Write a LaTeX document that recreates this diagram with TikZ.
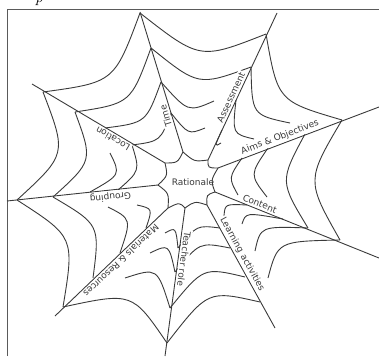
\documentclass[tikz,border=0pt]{standalone}
\usepackage{fontspec}
\newfontfamily\webfont{DejaVu Sans}
\usetikzlibrary{calc}
\definecolor{Ink}{HTML}{3A3A3A}
\definecolor{Frame}{HTML}{5A5A5A}
\tikzset{
    web/.style={Ink, line width=0.9pt},
    spoke/.style={Ink, line width=0.9pt},
    lab/.style={fill=white, text=Ink, inner sep=1.5pt, font=\webfont\fontsize{9}{9}\selectfont, sloped, allow upside down, above=0.5pt},
}
\begin{document}
\begin{tikzpicture}[x=1pt, y=-1pt]
    \useasboundingbox (0,0) rectangle (379,356);

    % Cornice
    \draw[Frame, line width=1pt] (7,356) -- (7,9) -- (379,9);
    \node[anchor=base, font=\fontsize{16}{16}\selectfont\itshape] (cap) at (39,2) {p};

    % Punti dei raggi: punta, anelli 1-4, estremo interno
    \coordinate (ctr) at (190,182);
    \coordinate (Lt) at (32,84);   \coordinate (L1) at (43,92);   \coordinate (L2) at (75,112);  \coordinate (L3) at (105,128); \coordinate (L4) at (132,145); \coordinate (Le) at (165,163);
    \coordinate (Tt) at (140,12);  \coordinate (T1) at (140,13);  \coordinate (T2) at (151,48);  \coordinate (T3) at (161,82);  \coordinate (T4) at (171,113); \coordinate (Te) at (183,152);
    \coordinate (At) at (277,13);  \coordinate (A1) at (266,34);  \coordinate (A2) at (251,67);  \coordinate (A3) at (236,100); \coordinate (A4) at (222,130); \coordinate (Ae) at (208,160);
    \coordinate (Ot) at (379,107); \coordinate (O1) at (342,120); \coordinate (O2) at (305,134); \coordinate (O3) at (268,148); \coordinate (O4) at (242,158); \coordinate (Oe) at (218,168);
    \coordinate (Ct) at (379,258); \coordinate (C1) at (340,240); \coordinate (C2) at (308,228); \coordinate (C3) at (283,219); \coordinate (C4) at (247,205); \coordinate (Ce) at (215,192);
    \coordinate (Et) at (275,328); \coordinate (E1) at (260,302); \coordinate (E2) at (245,277); \coordinate (E3) at (230,248); \coordinate (E4) at (220,228); \coordinate (Ee) at (207,205);
    \coordinate (Rt) at (165,356); \coordinate (R1) at (167,343); \coordinate (R2) at (170,308); \coordinate (R3) at (175,272); \coordinate (R4) at (178,248); \coordinate (Re) at (185,208);
    \coordinate (Mt) at (55,316);  \coordinate (M1) at (63,307);  \coordinate (M2) at (93,278);  \coordinate (M3) at (120,253); \coordinate (M4) at (146,228); \coordinate (Me) at (168,208);
    \coordinate (Gt) at (7,201);   \coordinate (G1) at (17,200);  \coordinate (G2) at (53,197);  \coordinate (G3) at (90,192);  \coordinate (G4) at (118,190); \coordinate (Ge) at (158,185);

    % Estremi liberi dei fili interni
    \coordinate (ta3) at (214,101); \coordinate (ta4) at (205,128);
    \coordinate (ao2) at (290,123); \coordinate (ao3) at (254,139); \coordinate (ao4) at (221,143);
    \coordinate (oc3) at (267,197); \coordinate (oc4) at (238,195);
    \coordinate (ce1) at (268,278); \coordinate (ce2) at (255,251); \coordinate (ce3) at (242,224); \coordinate (ce4) at (224,216);
    \coordinate (rm2) at (125,278); \coordinate (rm3) at (150,253); \coordinate (rm4) at (165,233);
    \coordinate (mg3) at (108,207); \coordinate (mg4) at (137,205);
    \coordinate (gl3) at (110,153);

    % Anello centrale
    \foreach \a/\b in {L/T,T/A,A/O,O/C,C/E,E/R,R/M,M/G,G/L}
        \draw[web] (\a e) .. controls ($($(\a e)!.5!(\b e)$)!.22!(ctr)$) .. (\b e);

    % Anelli esterni
    \foreach \p/\q in {L1/T1, T1/A1, A1/O1, O1/C1, C1/ce1, E1/R1, R1/M1, M1/G1, G1/L1,
                       L2/T2, T2/A2, A2/ao2, O2/C2, C2/ce2, E2/R2, R2/rm2, M2/G2, G2/L2,
                       L3/T3, T3/ta3, A3/ao3, O3/oc3, C3/ce3, E3/R3, R3/rm3, M3/mg3, G3/gl3,
                       L4/T4, T4/ta4, A4/ao4, O4/oc4, C4/ce4, E4/R4, R4/rm4, M4/mg4, G4/L4}
        \draw[web] (\p) .. controls ($($(\p)!.5!(\q)$)!.23!(ctr)$) .. (\q);

    % Raggi ed etichette
    \draw[spoke] (Le) -- (Lt) node[lab, pos=.37] (loc) {Location};
    \draw[spoke] (Te) -- (Tt) node[lab, pos=.27] (time) {Time};
    \draw[spoke] (Ae) -- (At) node[lab, pos=.41] (ass) {Assessment};
    \draw[spoke] (Oe) -- (Ot) node[lab, pos=.40] (aims) {Aims \& Objectives};
    \draw[spoke] (Ce) -- (Ct) node[lab, pos=.26] (con) {Content};
    \draw[spoke] (Ee) -- (Et) node[lab, pos=.43] (lea) {Learning activities};
    \draw[spoke] (Re) -- (Rt) node[lab, pos=.34] (tea) {Teacher role};
    \draw[spoke] (Me) -- (Mt) node[lab, pos=.45] (mat) {Materials \& Resources};
    \draw[spoke] (Ge) -- (Gt) node[lab, pos=.32] (gro) {Grouping};

    % Centro
    \node[text=Ink, font=\webfont\fontsize{9}{9}\selectfont] (rat) at (193,182) {Rationale};
\end{tikzpicture}
\end{document}
